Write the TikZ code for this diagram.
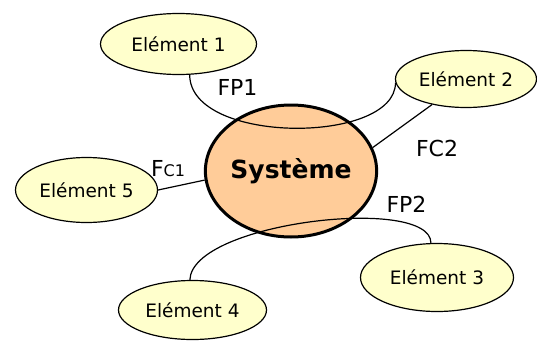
\documentclass[tikz,border=0pt]{standalone}
\usepackage{fontspec}
\setmainfont{DejaVu Sans}
\usepackage{tikz}
\usetikzlibrary{shapes.geometric}
\definecolor{elemyellow}{RGB}{255,255,204}
\definecolor{syspeach}{RGB}{255,204,153}
\tikzstyle {element node} = [ellipse, draw, fill=elemyellow, line width=1.2pt, inner sep=0pt, font=\fontsize{18.5}{20}\selectfont]
\tikzstyle {system node} = [ellipse, draw, fill=syspeach, line width=3pt, inner sep=0pt, minimum width=165pt, minimum height=132pt, font=\fontsize{25}{28}\selectfont\bfseries]
\tikzset{link/.style = {line width=1.2pt}}
\tikzset{flabel/.style = {inner sep=0pt, font=\fontsize{22}{24}\selectfont}}

\begin{document}
\begin{tikzpicture}[x=1pt, y=1pt]
            \useasboundingbox (0, 0) rectangle (537, 341);
            \node[system node] (s) at (291, 170) {Système};
            \node[element node, minimum width=156pt, minimum height=61pt] (e1) at (178.5, 297) {Elément 1};
            \node[element node, minimum width=141pt, minimum height=57pt] (e2) at (466, 262) {Elément 2};
            \node[element node, minimum width=153pt, minimum height=68pt] (e3) at (437, 63.5) {Elément 3};
            \node[element node, minimum width=148pt, minimum height=59pt] (e4) at (192.5, 31) {Elément 4};
            \node[element node, minimum width=142pt, minimum height=65pt] (e5) at (86.5, 151) {Elément 5};
            \draw[link] (e1.-70) .. controls +(0, -70) and +(0, -62) .. (e2.183);
            \draw[link] (e4.95) .. controls +(2, 58) and +(0, 48) .. (e3.100);
            \draw[link] (s.16) -- (e2.217);
            \draw[link] (e5.east) -- (s.186);
            \node[flabel] (lFP1) at (237.5, 253.5) {FP1};
            \node[flabel] (lFC2) at (437, 193) {FC2};
            \node[flabel] (lFP2) at (406.5, 137) {FP2};
            \node[flabel, anchor=base] (lFC1) at (168, 165) {F{\fontsize{16}{16}\selectfont C1}};
        \end{tikzpicture}
\end{document}
